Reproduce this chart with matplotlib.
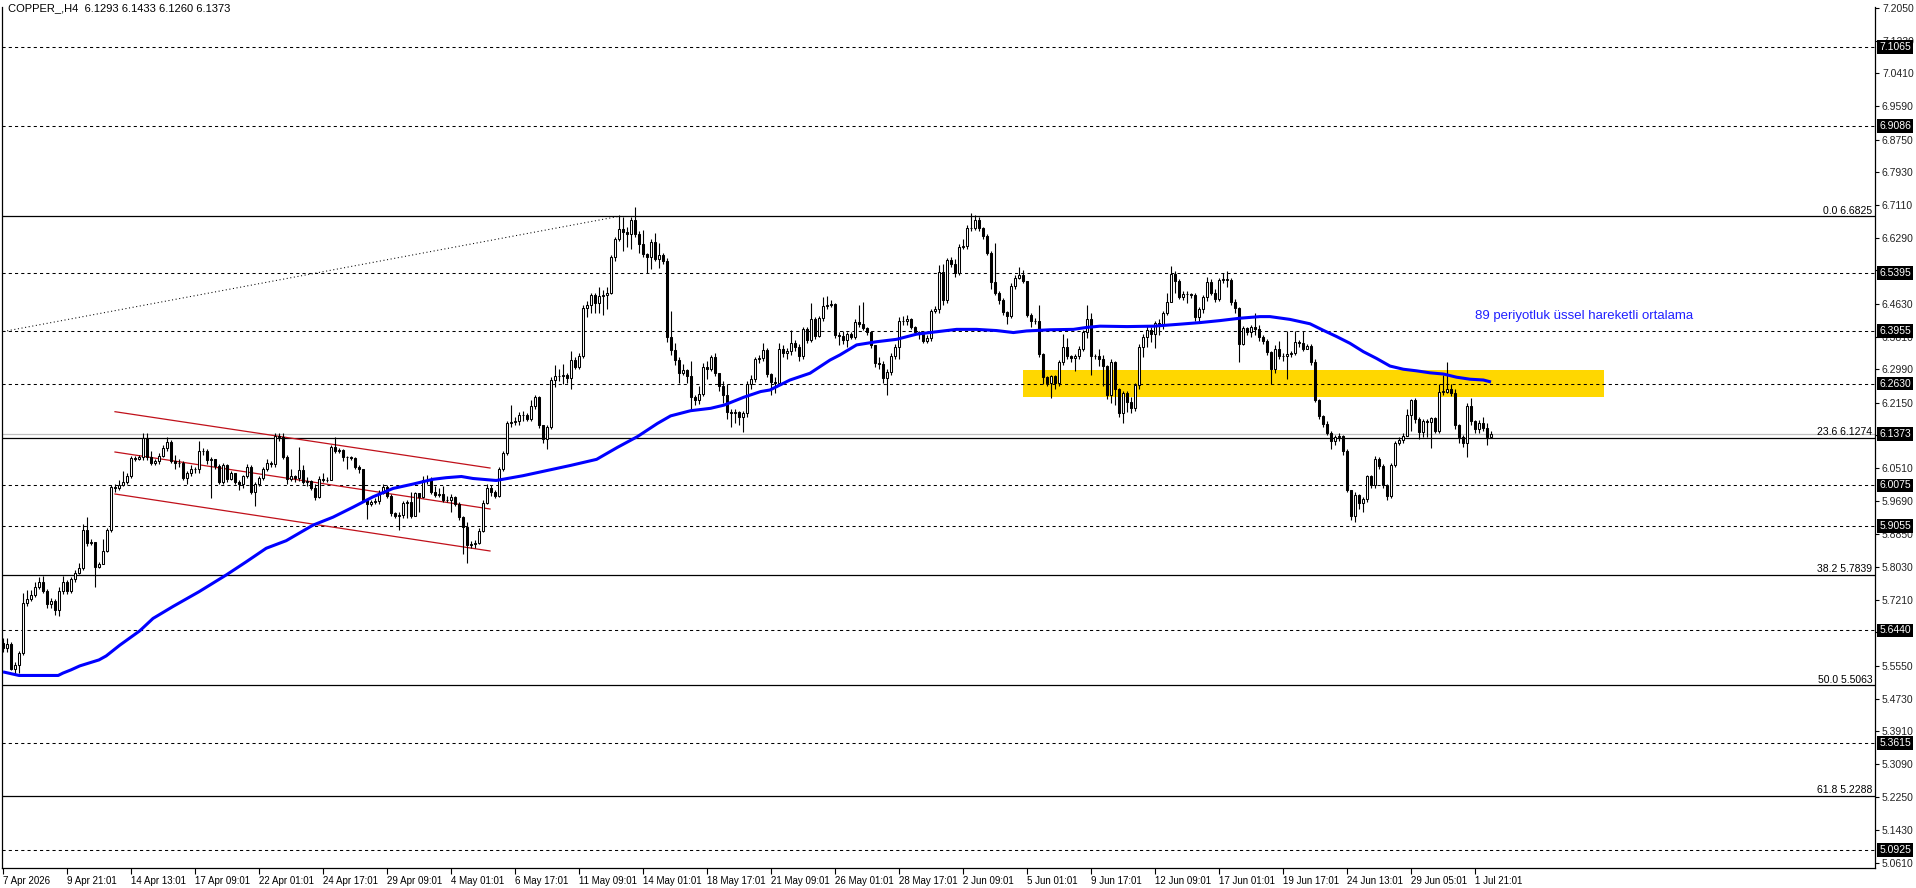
import matplotlib
matplotlib.use("Agg")
from matplotlib import pyplot as plt
from matplotlib import transforms

# ---- data ----
closes = [
    5.600, 5.610, 5.546, 5.556, 5.588, 5.712, 5.724, 5.734, 5.754, 5.765,
    5.744, 5.710, 5.717, 5.695, 5.744, 5.765, 5.744, 5.772, 5.789, 5.800,
    5.897, 5.862, 5.865, 5.802, 5.810, 5.844, 5.897, 6.003, 6.000, 6.008,
    6.017, 6.031, 6.076, 6.075, 6.078, 6.126, 6.078, 6.065, 6.069, 6.081,
    6.101, 6.117, 6.070, 6.063, 6.065, 6.025, 6.038, 6.050, 6.048, 6.095,
    6.093, 6.071, 6.073, 6.056, 6.017, 6.059, 6.023, 6.038, 6.017, 6.011,
    6.030, 6.053, 5.991, 6.011, 6.025, 6.048, 6.063, 6.061, 6.132, 6.130,
    6.080, 6.023, 6.030, 6.025, 6.046, 6.017, 6.019, 6.000, 5.978, 6.023,
    6.021, 6.022, 6.105, 6.094, 6.097, 6.078, 6.078, 6.077, 6.055, 6.048,
    5.971, 5.961, 5.965, 5.969, 5.989, 6.004, 5.981, 5.938, 5.931, 5.934,
    5.963, 5.966, 5.930, 5.988, 5.978, 6.021, 6.020, 5.992, 5.984, 5.985,
    5.971, 5.972, 5.978, 5.961, 5.928, 5.904, 5.858, 5.860, 5.864, 5.894,
    5.963, 6.000, 5.990, 5.982, 6.048, 6.090, 6.163, 6.166, 6.170, 6.183,
    6.184, 6.175, 6.208, 6.229, 6.158, 6.123, 6.155, 6.272, 6.282, 6.282,
    6.284, 6.276, 6.322, 6.304, 6.331, 6.452, 6.460, 6.485, 6.466, 6.482,
    6.485, 6.490, 6.580, 6.625, 6.650, 6.642, 6.638, 6.673, 6.638, 6.613,
    6.588, 6.580, 6.618, 6.575, 6.585, 6.571, 6.381, 6.346, 6.321, 6.289,
    6.296, 6.282, 6.230, 6.222, 6.237, 6.305, 6.300, 6.329, 6.290, 6.257,
    6.234, 6.193, 6.188, 6.192, 6.180, 6.190, 6.262, 6.275, 6.324, 6.326,
    6.347, 6.287, 6.268, 6.265, 6.351, 6.339, 6.345, 6.364, 6.354, 6.332,
    6.399, 6.372, 6.424, 6.382, 6.427, 6.458, 6.460, 6.462, 6.385, 6.382,
    6.372, 6.387, 6.381, 6.418, 6.413, 6.402, 6.393, 6.360, 6.314, 6.312,
    6.276, 6.293, 6.332, 6.356, 6.421, 6.420, 6.424, 6.406, 6.393, 6.388,
    6.371, 6.378, 6.446, 6.449, 6.544, 6.473, 6.573, 6.563, 6.540, 6.605,
    6.607, 6.652, 6.652, 6.673, 6.652, 6.633, 6.591, 6.519, 6.491, 6.473,
    6.443, 6.432, 6.508, 6.529, 6.535, 6.521, 6.435, 6.421, 6.420, 6.337,
    6.279, 6.264, 6.282, 6.264, 6.316, 6.354, 6.332, 6.326, 6.331, 6.351,
    6.393, 6.424, 6.332, 6.332, 6.324, 6.306, 6.234, 6.316, 6.249, 6.190,
    6.239, 6.218, 6.201, 6.260, 6.356, 6.381, 6.398, 6.387, 6.414, 6.412,
    6.439, 6.468, 6.537, 6.521, 6.481, 6.488, 6.487, 6.485, 6.431, 6.449,
    6.479, 6.519, 6.491, 6.474, 6.523, 6.524, 6.524, 6.468, 6.452, 6.362,
    6.402, 6.393, 6.404, 6.400, 6.381, 6.371, 6.341, 6.299, 6.349, 6.332,
    6.331, 6.337, 6.339, 6.368, 6.366, 6.351, 6.357, 6.318, 6.222, 6.182,
    6.162, 6.140, 6.120, 6.130, 6.131, 6.095, 5.995, 5.931, 5.984, 5.963,
    5.973, 6.031, 6.008, 6.073, 6.056, 6.008, 5.980, 6.059, 6.115, 6.122,
    6.132, 6.184, 6.222, 6.173, 6.142, 6.168, 6.167, 6.176, 6.145, 6.243,
    6.243, 6.249, 6.239, 6.159, 6.130, 6.113, 6.207, 6.168, 6.148, 6.163,
    6.151, 6.1293, 6.1373,
]
highs = [
    5.625, 5.625, 5.615, 5.565, 5.592, 5.737, 5.745, 5.745, 5.765, 5.778,
    5.780, 5.748, 5.725, 5.722, 5.752, 5.780, 5.770, 5.778, 5.795, 5.812,
    5.912, 5.929, 5.872, 5.865, 5.815, 5.872, 5.902, 6.008, 6.010, 6.020,
    6.045, 6.038, 6.082, 6.082, 6.085, 6.138, 6.140, 6.095, 6.075, 6.088,
    6.108, 6.128, 6.122, 6.085, 6.075, 6.070, 6.045, 6.058, 6.055, 6.120,
    6.102, 6.098, 6.080, 6.075, 6.062, 6.065, 6.062, 6.045, 6.040, 6.020,
    6.035, 6.062, 6.058, 6.015, 6.030, 6.055, 6.075, 6.070, 6.140, 6.138,
    6.140, 6.085, 6.050, 6.035, 6.105, 6.060, 6.028, 6.020, 6.010, 6.030,
    6.040, 6.028, 6.108, 6.128, 6.102, 6.100, 6.082, 6.082, 6.078, 6.058,
    6.050, 5.975, 5.970, 5.975, 5.995, 6.010, 6.008, 5.985, 5.942, 5.940,
    5.968, 5.972, 5.990, 5.992, 5.985, 6.030, 6.035, 6.028, 6.005, 6.000,
    6.005, 5.980, 5.985, 5.980, 5.965, 5.930, 5.915, 5.868, 5.870, 5.900,
    5.970, 6.010, 6.008, 5.995, 6.055, 6.095, 6.168, 6.210, 6.180, 6.192,
    6.195, 6.190, 6.222, 6.235, 6.232, 6.160, 6.160, 6.280, 6.310, 6.300,
    6.312, 6.290, 6.345, 6.330, 6.340, 6.460, 6.470, 6.490, 6.490, 6.505,
    6.498, 6.505, 6.585, 6.630, 6.685, 6.680, 6.655, 6.680, 6.707, 6.645,
    6.648, 6.590, 6.625, 6.640, 6.615, 6.590, 6.578, 6.445, 6.365, 6.330,
    6.312, 6.300, 6.320, 6.235, 6.258, 6.315, 6.320, 6.335, 6.340, 6.290,
    6.270, 6.262, 6.200, 6.200, 6.195, 6.195, 6.270, 6.285, 6.330, 6.335,
    6.365, 6.352, 6.290, 6.280, 6.365, 6.360, 6.352, 6.398, 6.372, 6.362,
    6.405, 6.405, 6.465, 6.430, 6.432, 6.480, 6.482, 6.472, 6.465, 6.392,
    6.395, 6.392, 6.392, 6.425, 6.460, 6.468, 6.405, 6.395, 6.340, 6.330,
    6.320, 6.300, 6.340, 6.362, 6.430, 6.432, 6.435, 6.428, 6.408, 6.395,
    6.392, 6.385, 6.450, 6.458, 6.560, 6.562, 6.578, 6.580, 6.575, 6.612,
    6.625, 6.660, 6.690, 6.685, 6.682, 6.655, 6.638, 6.595, 6.615, 6.495,
    6.478, 6.445, 6.515, 6.535, 6.555, 6.548, 6.520, 6.440, 6.428, 6.460,
    6.340, 6.282, 6.285, 6.285, 6.322, 6.388, 6.378, 6.335, 6.338, 6.358,
    6.398, 6.460, 6.440, 6.338, 6.350, 6.335, 6.310, 6.325, 6.320, 6.252,
    6.245, 6.245, 6.230, 6.265, 6.362, 6.388, 6.410, 6.405, 6.420, 6.425,
    6.445, 6.490, 6.558, 6.545, 6.525, 6.495, 6.495, 6.490, 6.490, 6.455,
    6.485, 6.530, 6.525, 6.500, 6.528, 6.540, 6.546, 6.528, 6.475, 6.455,
    6.408, 6.405, 6.410, 6.440, 6.410, 6.385, 6.375, 6.345, 6.360, 6.370,
    6.340, 6.395, 6.345, 6.395, 6.372, 6.395, 6.362, 6.362, 6.325, 6.225,
    6.185, 6.168, 6.145, 6.135, 6.138, 6.135, 6.100, 5.995, 5.990, 5.985,
    5.978, 6.035, 6.035, 6.082, 6.080, 6.062, 6.010, 6.065, 6.120, 6.130,
    6.140, 6.200, 6.225, 6.228, 6.178, 6.175, 6.175, 6.180, 6.180, 6.262,
    6.285, 6.316, 6.262, 6.250, 6.162, 6.135, 6.215, 6.228, 6.172, 6.172,
    6.178, 6.165, 6.1433,
]
lows = [
    5.590, 5.590, 5.545, 5.532, 5.536, 5.582, 5.705, 5.718, 5.728, 5.748,
    5.738, 5.700, 5.700, 5.682, 5.680, 5.735, 5.735, 5.738, 5.765, 5.785,
    5.795, 5.855, 5.858, 5.754, 5.800, 5.838, 5.840, 5.890, 5.990, 5.995,
    6.005, 6.010, 6.025, 6.070, 6.072, 6.072, 6.072, 6.060, 6.060, 6.062,
    6.078, 6.095, 6.065, 6.050, 6.055, 6.020, 6.010, 6.030, 6.040, 6.040,
    6.085, 6.062, 5.975, 6.050, 6.010, 6.012, 6.015, 6.020, 6.010, 5.996,
    6.000, 6.025, 5.985, 5.956, 6.005, 6.020, 6.045, 6.055, 6.055, 6.118,
    6.075, 6.010, 6.018, 6.015, 6.018, 6.010, 6.005, 5.995, 5.972, 5.975,
    6.015, 6.015, 6.020, 6.090, 6.090, 6.070, 6.050, 6.072, 6.050, 6.040,
    5.965, 5.923, 5.955, 5.960, 5.962, 5.985, 5.975, 5.932, 5.925, 5.896,
    5.925, 5.925, 5.925, 5.930, 5.940, 5.975, 6.012, 5.985, 5.978, 5.978,
    5.965, 5.965, 5.940, 5.955, 5.920, 5.835, 5.812, 5.850, 5.850, 5.860,
    5.890, 5.960, 5.982, 5.975, 5.978, 6.045, 6.085, 6.155, 6.160, 6.160,
    6.170, 6.168, 6.170, 6.200, 6.152, 6.115, 6.100, 6.150, 6.255, 6.270,
    6.262, 6.265, 6.250, 6.300, 6.300, 6.328, 6.430, 6.440, 6.440, 6.440,
    6.435, 6.450, 6.488, 6.570, 6.620, 6.595, 6.605, 6.600, 6.630, 6.590,
    6.580, 6.540, 6.550, 6.570, 6.552, 6.562, 6.368, 6.335, 6.310, 6.265,
    6.285, 6.265, 6.200, 6.210, 6.212, 6.232, 6.275, 6.295, 6.282, 6.245,
    6.215, 6.175, 6.155, 6.165, 6.160, 6.142, 6.180, 6.250, 6.268, 6.315,
    6.320, 6.280, 6.235, 6.240, 6.262, 6.330, 6.325, 6.335, 6.345, 6.320,
    6.325, 6.365, 6.368, 6.375, 6.380, 6.420, 6.450, 6.455, 6.378, 6.360,
    6.362, 6.355, 6.375, 6.375, 6.405, 6.398, 6.385, 6.352, 6.305, 6.300,
    6.265, 6.234, 6.285, 6.325, 6.325, 6.410, 6.410, 6.400, 6.385, 6.375,
    6.365, 6.365, 6.370, 6.440, 6.440, 6.460, 6.465, 6.555, 6.530, 6.535,
    6.600, 6.600, 6.645, 6.648, 6.645, 6.625, 6.585, 6.500, 6.485, 6.462,
    6.435, 6.412, 6.428, 6.500, 6.525, 6.515, 6.430, 6.405, 6.412, 6.330,
    6.262, 6.258, 6.228, 6.250, 6.258, 6.310, 6.325, 6.318, 6.295, 6.325,
    6.345, 6.378, 6.285, 6.325, 6.308, 6.258, 6.225, 6.215, 6.210, 6.180,
    6.165, 6.192, 6.190, 6.195, 6.250, 6.330, 6.355, 6.368, 6.352, 6.385,
    6.400, 6.435, 6.490, 6.490, 6.475, 6.472, 6.465, 6.478, 6.420, 6.420,
    6.440, 6.470, 6.485, 6.468, 6.470, 6.515, 6.505, 6.460, 6.440, 6.318,
    6.360, 6.385, 6.380, 6.385, 6.370, 6.362, 6.335, 6.262, 6.290, 6.325,
    6.320, 6.275, 6.330, 6.335, 6.355, 6.345, 6.350, 6.310, 6.218, 6.175,
    6.155, 6.135, 6.100, 6.110, 6.120, 6.085, 5.990, 5.920, 5.915, 5.948,
    5.942, 5.965, 6.000, 6.000, 6.048, 6.000, 5.972, 5.975, 6.055, 6.110,
    6.115, 6.140, 6.145, 6.165, 6.125, 6.130, 6.130, 6.102, 6.138, 6.140,
    6.235, 6.240, 6.232, 6.150, 6.115, 6.105, 6.080, 6.160, 6.140, 6.140,
    6.145, 6.108, 6.1260,
]
first_open = 5.612

# 89 EMA (bar index, value)
ema_bars = [0, 4, 13.8, 15, 17, 19.2, 24, 25.8, 29.2, 34.2, 37.5, 42.5, 49, 55.8,
            60.8, 65.8, 70.8, 77.5, 82.5, 87.5, 92.5, 97.5, 102.5, 107.5, 110.8,
            114.6, 117.5, 123.3, 130, 136, 142, 148.4, 153.6, 158.6, 163.6, 166.9,
            171.9, 176.9, 180.25, 185.25, 189.4, 191.75, 196.75, 201.75, 206.75,
            209.25, 213.4, 218.4, 223.4, 228.4, 233.4, 238.4, 243.4, 248.4, 252.6,
            255.9, 261.75, 267.6, 271, 274.25, 281, 287.6, 294.25, 299.25, 304.25,
            309.25, 314.25, 316.75, 321.75, 326.75, 330, 333.4, 336.75, 340.1,
            343.4, 346.75, 350.1, 353.4, 356.75, 360.1, 363.4, 366.75, 370.1, 372]
ema_vals = [5.540, 5.531, 5.531, 5.537, 5.545, 5.555, 5.570, 5.580, 5.607, 5.643,
            5.674, 5.704, 5.741, 5.783, 5.816, 5.850, 5.869, 5.908, 5.928, 5.953,
            5.979, 6.000, 6.011, 6.023, 6.027, 6.030, 6.025, 6.020, 6.032, 6.045,
            6.058, 6.073, 6.103, 6.130, 6.163, 6.182, 6.195, 6.201, 6.209, 6.229,
            6.243, 6.247, 6.272, 6.289, 6.322, 6.335, 6.360, 6.368, 6.374, 6.387,
            6.393, 6.399, 6.399, 6.396, 6.391, 6.395, 6.398, 6.399, 6.404, 6.407,
            6.406, 6.407, 6.412, 6.416, 6.421, 6.427, 6.431, 6.431, 6.424, 6.413,
            6.397, 6.381, 6.364, 6.343, 6.326, 6.307, 6.299, 6.295, 6.290, 6.287,
            6.279, 6.274, 6.272, 6.267]

dash_levels = [7.1065, 6.9086, 6.5395, 6.3955, 6.2630, 6.0075, 5.9055, 5.6440, 5.3615, 5.0925]
fib_levels = [6.6825, 6.1274, 5.7839, 5.5063, 5.2288]
fib_names = ["0.0", "23.6", "38.2", "50.0", "61.8"]
last_price = 6.1373

price_ticks = [7.2050, 7.1230, 7.0410, 6.9590, 6.8750, 6.7930, 6.7110, 6.6290, 6.5470,
               6.4630, 6.3810, 6.2990, 6.2150, 6.1330, 6.0510, 5.9690, 5.8850, 5.8030,
               5.7210, 5.6390, 5.5550, 5.4730, 5.3910, 5.3090, 5.2250, 5.1430, 5.0610]

date_labels = ["7 Apr 2026", "9 Apr 21:01", "14 Apr 13:01", "17 Apr 09:01", "22 Apr 01:01",
               "24 Apr 17:01", "29 Apr 09:01", "4 May 01:01", "6 May 17:01", "11 May 09:01",
               "14 May 01:01", "18 May 17:01", "21 May 09:01", "26 May 01:01", "28 May 17:01",
               "2 Jun 09:01", "5 Jun 01:01", "9 Jun 17:01", "12 Jun 09:01", "17 Jun 01:01",
               "19 Jun 17:01", "24 Jun 13:01", "29 Jun 05:01", "1 Jul 21:01"]

# channel lines (start bar, start price, end bar, end price)
channel = [(28, 6.1925, 121.75, 6.0513),
           (28, 6.0914, 121.75, 5.9485),
           (28, 5.9861, 121.75, 5.8432)]
trend = (-0.75, 6.392, 154, 6.6825)
zone = (255, 6.2294, 400.25, 6.2971)

plt.rcParams['font.family'] = ['Liberation Sans', 'DejaVu Sans']

fig = plt.figure(figsize=(19.16, 8.88), dpi=100)
ax = fig.add_axes([2 / 1916, 20 / 888, 1873 / 1916, 861 / 888])
ax.set_xlim(-0.25, 468)
ax.set_ylim(5.0481, 7.2075)

# zone
ax.add_patch(plt.Rectangle((zone[0], zone[1]), zone[2] - zone[0], zone[3] - zone[1],
                           facecolor='#ffd700', edgecolor='none', zorder=0.5))

# levels
for lv in dash_levels:
    ax.axhline(lv, color='black', lw=0.75, ls=(0, (3, 3)), zorder=1)
for lv in fib_levels:
    ax.axhline(lv, color='black', lw=0.9, zorder=1)
ax.axhline(last_price, color='#c0c0c0', lw=0.9, zorder=1)

# dotted trend and red channel
ax.plot([trend[0], trend[2]], [trend[1], trend[3]], color='black', lw=0.75,
        ls=(0, (1, 2.5)), zorder=1.2)
for x0, y0, x1, y1 in channel:
    ax.plot([x0, x1], [y0, y1], color='#c0101a', lw=0.9, zorder=1.2)

# candles
n = len(closes)
xs = list(range(n))
opens = [first_open] + closes[:-1]
wick_lo = [min(l, o, c) for l, o, c in zip(lows, opens, closes)]
wick_hi = [max(h, o, c) for h, o, c in zip(highs, opens, closes)]
ax.vlines(xs, wick_lo, wick_hi, color='black', lw=0.8, zorder=2)
bottoms = [min(o, c) for o, c in zip(opens, closes)]
heights = [max(abs(c - o), 0.0012) for o, c in zip(opens, closes)]
faces = ['white' if c >= o else 'black' for o, c in zip(opens, closes)]
ax.bar(xs, heights, bottom=bottoms, width=0.6, color=faces, edgecolor='black',
       linewidth=0.75, zorder=3)

# EMA
ax.plot(ema_bars, ema_vals, color='#0000ff', lw=2.2, zorder=4, solid_capstyle='butt')
ax.text(368, 6.4325, "89 periyotluk üssel hareketli ortalama", color='#2020ff',
        fontsize=9.5, va='center', ha='left')

# axes look
ax.spines['top'].set_visible(False)
for s in ['left', 'right', 'bottom']:
    ax.spines[s].set_linewidth(0.9)

ax.yaxis.tick_right()
ax.set_yticks(price_ticks)
ax.set_yticklabels([f"{p:.4f}" for p in price_ticks])
ax.tick_params(axis='y', length=3, width=0.8, pad=2, labelsize=7.5, labelcolor='#222222')

ax.set_xticks([16 * i for i in range(len(date_labels))])
ax.set_xticklabels(date_labels)
ax.tick_params(axis='x', length=4, width=0.8, pad=2, labelsize=7)
for lbl in ax.get_xticklabels():
    lbl.set_ha('left')

# black price boxes on the right axis
tr = transforms.blended_transform_factory(ax.transAxes, ax.transData)
for lv in dash_levels + [last_price]:
    ax.text(1.0022, lv, f"{lv:.4f}", transform=tr, color='white', fontsize=7.5,
            va='center', ha='left', clip_on=False, zorder=6,
            bbox=dict(boxstyle='square,pad=0.18', facecolor='black', edgecolor='none'))

# fibonacci labels
for lv, nm in zip(fib_levels, fib_names):
    ax.text(0.9985, lv + 0.002, f"{nm} {lv:.4f}", transform=tr, fontsize=7.5,
            va='bottom', ha='right', color='black')

fig.text(8 / 1916, 1 - 3 / 888, "COPPER_,H4  6.1293 6.1433 6.1260 6.1373",
         fontsize=8, va='top', ha='left')

fig.savefig('out.png', dpi=100, facecolor='white')
